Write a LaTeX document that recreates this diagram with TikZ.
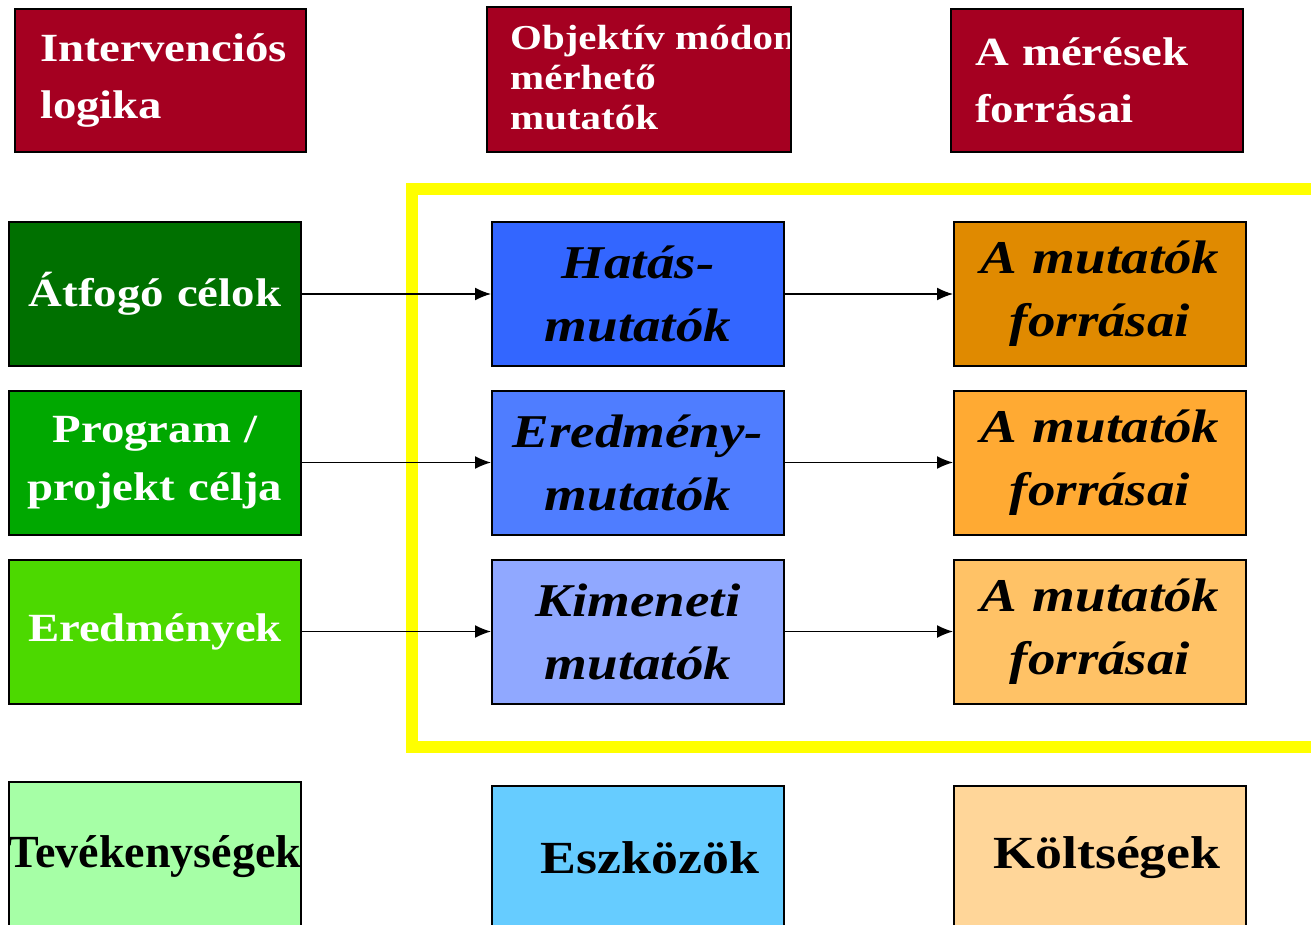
\documentclass[tikz,border=0pt]{standalone}
\usepackage{fontspec}
\setmainfont[FakeStretch=1.17]{Liberation Serif}
\newfontfamily\plainfont{Liberation Serif}
\usetikzlibrary{arrows.meta}
\definecolor{hdr}{HTML}{A50021}
\definecolor{gA}{HTML}{007000}
\definecolor{gB}{HTML}{00A800}
\definecolor{gC}{HTML}{4CD900}
\definecolor{gD}{HTML}{A6FFA6}
\definecolor{bA}{HTML}{3366FF}
\definecolor{bB}{HTML}{4F7DFF}
\definecolor{bC}{HTML}{90A8FF}
\definecolor{bD}{HTML}{66CCFF}
\definecolor{oA}{HTML}{E08A00}
\definecolor{oB}{HTML}{FFAA33}
\definecolor{oC}{HTML}{FFC266}
\definecolor{oD}{HTML}{FFD699}
\definecolor{frame}{HTML}{FFFF00}
\tikzset{
  cell/.style={draw=black, line width=2pt, inner xsep=0pt, inner ysep=0pt, align=center, minimum height=144pt, text width=292pt},
  hdrbox/.style={draw=black, line width=2pt, fill=hdr, text=white, inner ysep=0pt, align=left, font=\fontsize{40}{57}\selectfont\bfseries},
  lefttext/.style={text=white, font=\fontsize{40}{58}\selectfont\bfseries},
  ittext/.style={text=black, font=\fontsize{47}{63}\selectfont\bfseries\itshape},
  bottext/.style={text=black, font=\fontsize{46}{50}\selectfont\bfseries},
  conn/.style={line width=1.5pt, -{Latex[length=16pt,width=13pt]}}
}
\begin{document}
\begin{tikzpicture}[x=1pt,y=-1pt]
\useasboundingbox (0,0) rectangle (1311,925);
% header row
\node[hdrbox, inner xsep=25pt, text width=241pt, minimum height=143pt] (h1) at (160.5,80.5) {Intervenciós\\logika};
\node[draw=black, line width=2pt, fill=hdr, inner sep=0pt, minimum width=304pt, minimum height=145pt,
  path picture={\node[text=white, align=left, anchor=west, inner sep=0pt, font=\fontsize{35}{40}\selectfont\bfseries]
    at ([xshift=13pt,yshift=2pt]path picture bounding box.west) {Objektív módon\\mérhető\\mutatók};}] (h2) at (639,79.5) {};
\node[hdrbox, inner xsep=24pt, text width=244pt, minimum height=143pt] (h3) at (1097,80.5) {A mérések\\forrásai};
% yellow frame
\draw[frame, line width=12pt] (1330,189) -- (412,189) -- (412,747) -- (1330,747);
% left column
\node[cell, fill=gA, lefttext] (l1) at (155,294) {Átfogó célok};
\node[cell, fill=gB, lefttext] (l2) at (155,462.5) {Program /\\projekt célja};
\node[cell, fill=gC, lefttext] (l3) at (155,631.5) {Eredmények};
% middle column
\node[cell, fill=bA, ittext] (m1) at (638,294) {Hatás-\\mutatók};
\node[cell, fill=bB, ittext] (m2) at (638,462.5) {Eredmény-\\mutatók};
\node[cell, fill=bC, ittext] (m3) at (638,631.5) {Kimeneti\\mutatók};
% right column
\node[cell, fill=oA, ittext] (r1) at (1100,294) {A mutatók\\forrásai};
\node[cell, fill=oB, ittext] (r2) at (1100,462.5) {A mutatók\\forrásai};
\node[cell, fill=oC, ittext] (r3) at (1100,631.5) {A mutatók\\forrásai};
% bottom row
\node[cell, fill=gD, bottext, minimum height=150pt, font=\plainfont\fontsize{46}{50}\selectfont\bfseries] (b1) at (155,857) {Tevékenységek};
\node[cell, fill=bD, bottext, minimum height=144pt] (b2) at (638,858) {\hspace*{24pt}Eszközök};
\node[cell, fill=oD, bottext, minimum height=144pt] (b3) at (1100,858) {\hspace*{14pt}Költségek};
% connectors
\foreach \i in {1,2,3}{
  \draw[conn] (l\i.east) -- (m\i.west);
  \draw[conn] (m\i.east) -- (r\i.west);
}
\end{tikzpicture}
\end{document}
